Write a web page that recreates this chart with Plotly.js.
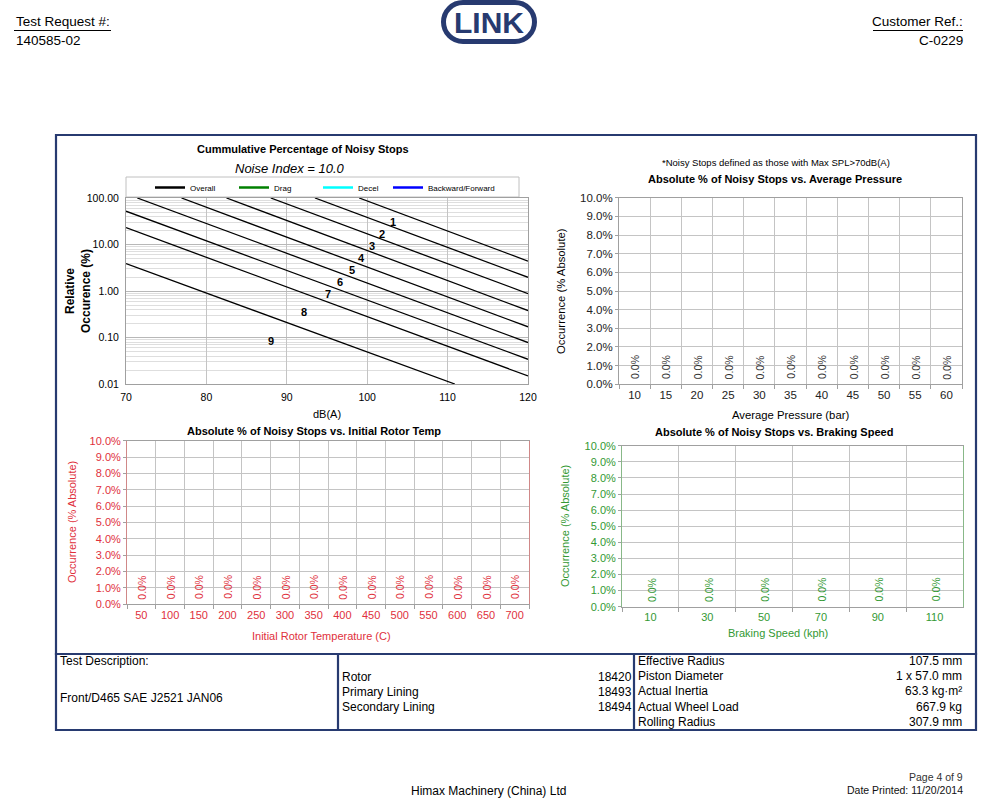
<!DOCTYPE html>
<html><head><meta charset="utf-8">
<script src="https://cdn.plot.ly/plotly-3.0.1.min.js"></script>
<style>html,body{margin:0;padding:0;background:#fff}#chart{width:1000px;height:801px}</style>
</head><body><div id="chart"></div>
<script>
// ---------- data ----------
const seriesNames = ['Overall', 'Drag', 'Decel', 'Backward/Forward'];
const seriesColors = ['#000000', '#008000', '#00ffff', '#0000ff'];
const seriesDb = [[null], [null], [null], [null]];
const seriesPct = [[null], [null], [null], [null]];

const noiseLineIds = ['1', '2', '3', '4', '5', '6', '7', '8', '9'];
const noiseLineDb = [[99.0, 120], [93.5, 120], [88.0, 120], [82.5, 120], [76.9, 120], [71.4, 120], [70, 120], [70, 120], [70, 110.9]];
const noiseLinePct = [[100, 4.4], [100, 1.97], [100, 0.88], [100, 0.38], [100, 0.17], [100, 0.078], [52, 0.034], [23, 0.0149], [3.87, 0.01]];
const noiseLabelDb = [103.2, 101.9, 100.6, 99.3, 98.1, 96.6, 95.1, 92.2, 88.0];
const noiseLabelPct = [31, 16.5, 9.3, 5.05, 2.78, 1.53, 0.85, 0.35, 0.084];

const pressureCats = ['10', '15', '20', '25', '30', '35', '40', '45', '50', '55', '60'];
const pressurePct = [0, 0, 0, 0, 0, 0, 0, 0, 0, 0, 0];
const tempCats = ['50', '100', '150', '200', '250', '300', '350', '400', '450', '500', '550', '600', '650', '700'];
const tempPct = [0, 0, 0, 0, 0, 0, 0, 0, 0, 0, 0, 0, 0, 0];
const speedCats = ['10', '30', '50', '70', '90', '110'];
const speedPct = [0, 0, 0, 0, 0, 0];

const headerLeft = ['Test Request #:', '140585-02'];
const headerRight = ['Customer Ref.:', 'C-0229'];
const testDescription = ['Test Description:', 'Front/D465 SAE J2521 JAN06'];
const partRows = [['Rotor', '18420'], ['Primary Lining', '18493'], ['Secondary Lining', '18494']];
const specRows = [['Effective Radius', '107.5 mm'], ['Piston Diameter', '1 x 57.0 mm'], ['Actual Inertia', '63.3 kg·m²'], ['Actual Wheel Load', '667.9 kg'], ['Rolling Radius', '307.9 mm']];
const footerCompany = 'Himax Machinery (China) Ltd';
const footerPage = 'Page 4 of 9';
const footerDate = 'Date Printed: 11/20/2014';

// ---------- helpers ----------
const FONT = 'Liberation Sans, Arial, Helvetica, sans-serif';
const NAVY = '#273a70';
const RED = '#e0303c';
const GREEN = '#339933';
const X = px => px / 1000;
const Y = py => 1 - py / 801;

const annotations = [];
function txt(text, x, y, o = {}) {
  annotations.push(Object.assign({
    xref: 'paper', yref: 'paper', x: X(x), y: Y(y), text: text, showarrow: false,
    xanchor: o.xa || 'center', yanchor: 'middle',
    font: { family: FONT, size: o.size || 12, color: o.color || '#000' },
    textangle: o.angle || 0
  }, o.extra || {}));
}
const shapes = [];
function line(x0, y0, x1, y1, color, w) {
  shapes.push({ type: 'line', xref: 'paper', yref: 'paper', x0: X(x0), y0: Y(y0), x1: X(x1), y1: Y(y1), line: { color: color, width: w } });
}
function rect(x0, y0, x1, y1, color, w, fill) {
  shapes.push({ type: 'rect', xref: 'paper', yref: 'paper', x0: X(x0), y0: Y(y0), x1: X(x1), y1: Y(y1), line: { color: color, width: w }, fillcolor: fill || 'rgba(0,0,0,0)', layer: 'below' });
}
function stadium(x0, y0, x1, y1) {
  const r = (y1 - y0) / 2, k = 0.5523 * r;
  const P = (a, b) => X(a) + ',' + Y(b);
  return 'M' + P(x0 + r, y0) + ' L' + P(x1 - r, y0) +
    ' C' + P(x1 - r + k, y0) + ' ' + P(x1, y0 + r - k) + ' ' + P(x1, y0 + r) +
    ' C' + P(x1, y0 + r + k) + ' ' + P(x1 - r + k, y1) + ' ' + P(x1 - r, y1) +
    ' L' + P(x0 + r, y1) +
    ' C' + P(x0 + r - k, y1) + ' ' + P(x0, y0 + r + k) + ' ' + P(x0, y0 + r) +
    ' C' + P(x0, y0 + r - k) + ' ' + P(x0 + r - k, y0) + ' ' + P(x0 + r, y0) + ' Z';
}

// ---------- traces ----------
const traces = [];
noiseLineIds.forEach((id, i) => {
  traces.push({ type: 'scatter', mode: 'lines', x: noiseLineDb[i], y: noiseLinePct[i], xaxis: 'x', yaxis: 'y',
    line: { color: '#000', width: 1.3 }, showlegend: false, hoverinfo: 'skip', name: 'NI ' + id });
  annotations.push({ xref: 'x', yref: 'y', x: noiseLabelDb[i], y: Math.log10(noiseLabelPct[i]), text: '<b>' + id + '</b>',
    showarrow: false, font: { family: FONT, size: 11, color: '#000' } });
});
seriesNames.forEach((n, i) => {
  traces.push({ type: 'scatter', mode: 'lines', x: seriesDb[i], y: seriesPct[i], xaxis: 'x', yaxis: 'y',
    name: n, line: { color: seriesColors[i], width: 2.5 }, legend: i < 3 ? 'legend' : 'legend2' });
});
function barSet(cats, vals, xa, ya, color) {
  traces.push({ type: 'bar', x: cats, y: vals, xaxis: xa, yaxis: ya, marker: { color: '#8080c0' }, showlegend: false, hoverinfo: 'skip' });
  cats.forEach((c, i) => {
    // category axes: annotation x is the category index
    annotations.push({ xref: xa, yref: ya, x: i, y: vals[i], text: vals[i].toFixed(1) + '%', textangle: -90,
      showarrow: false, yanchor: 'middle', yshift: 17, xshift: 1, font: { family: FONT, size: 10.5, color: color } });
  });
}
barSet(pressureCats, pressurePct, 'x2', 'y2', '#333');
barSet(tempCats, tempPct, 'x3', 'y3', RED);
barSet(speedCats, speedPct, 'x4', 'y4', GREEN);

// ---------- page decoration ----------
rect(56, 135, 976, 654, NAVY, 2.2);
rect(56, 654, 976, 730, NAVY, 2.2);
line(338, 654, 338, 730, NAVY, 2.2);
line(634, 654, 634, 730, NAVY, 2.2);
rect(126, 177, 519, 197, '#c0c0c0', 1, '#ffffff');
shapes.push({ type: 'path', xref: 'paper', yref: 'paper', path: stadium(443.5, 2.5, 534.5, 41.5), line: { color: NAVY, width: 5 }, fillcolor: '#fff' });
txt('<b>LINK</b>', 489, 23, { size: 30, color: NAVY });
txt(headerLeft[0], 14, 22, { xa: 'left', size: 13.5 });
txt(headerLeft[1], 14, 40, { xa: 'left', size: 13.5 });
txt(headerRight[0], 965, 22, { xa: 'right', size: 13.5 });
txt(headerRight[1], 965, 40, { xa: 'right', size: 13.5 });
line(14, 30.5, 111, 30.5, '#000', 1);
line(873, 30.5, 963, 30.5, '#000', 1);
txt(footerCompany, 488, 791, { size: 12 });
txt(footerPage, 965, 777, { xa: 'right', size: 10.5, color: '#333' });
txt(footerDate, 965, 790, { xa: 'right', size: 10.5, color: '#111' });
txt(testDescription[0], 58, 661, { xa: 'left', size: 12 });
txt(testDescription[1], 58, 698, { xa: 'left', size: 12 });
partRows.forEach((r, i) => {
  txt(r[0], 340, 677 + i * 15, { xa: 'left', size: 12 });
  txt(r[1], 634, 677 + i * 15, { xa: 'right', size: 12 });
});
specRows.forEach((r, i) => {
  txt(r[0], 636, 661 + i * 15.2, { xa: 'left', size: 12 });
  txt(r[1], 964, 661 + i * 15.2, { xa: 'right', size: 12 });
});

txt('<b>Cummulative Percentage of Noisy Stops</b>', 303, 149, { size: 11 });
txt('<i>Noise Index = 10.0</i>', 290, 168, { size: 13 });
txt('<b>Relative</b><br><b>Occurence (%)</b>', 78, 291, { size: 12, angle: -90 });
txt('dB(A)', 327, 414, { size: 11 });

txt('*Noisy Stops defined as those with Max SPL>70dB(A)', 776, 162, { size: 9.5 });
txt('<b>Absolute % of Noisy Stops vs. Average Pressure</b>', 775, 179, { size: 11 });
txt('Occurrence (% Absolute)', 561, 291, { size: 11.3, angle: -90 });
txt('Average Pressure (bar)', 790, 415, { size: 11.3 });

txt('<b>Absolute % of Noisy Stops vs. Initial Rotor Temp</b>', 314, 431, { size: 11 });
txt('Occurrence (% Absolute)', 72, 522, { size: 11, angle: -90, color: RED });
txt('Initial Rotor Temperature (C)', 321, 636, { size: 11, color: RED });

txt('<b>Absolute % of Noisy Stops vs. Braking Speed</b>', 774, 432, { size: 11 });
txt('Occurrence (% Absolute)', 565, 526, { size: 11, angle: -90, color: GREEN });
txt('Braking Speed (kph)', 778, 633, { size: 11, color: GREEN });

// ---------- axes ----------
const GRID = '#c4c4c4', BORDER = '#a0a0a0';
function catX(domain, anchor, n, color, size) {
  return { type: 'category', domain: domain, anchor: anchor, range: [-0.5, n - 0.5], tickson: 'boundaries',
    showgrid: true, gridcolor: GRID, showline: true, mirror: true, linecolor: BORDER, linewidth: 1,
    ticks: 'outside', ticklen: 4, tickcolor: BORDER, tickfont: { family: FONT, size: size, color: color }, zeroline: false, fixedrange: true };
}
function pctY(domain, anchor, color, size, lc) {
  return { domain: domain, anchor: anchor, range: [0, 10], dtick: 1, tickformat: '.1f', ticksuffix: '%',
    showgrid: true, gridcolor: GRID, showline: true, mirror: true, linecolor: lc || BORDER, linewidth: 1,
    ticks: 'outside', ticklen: 3, tickcolor: BORDER, tickfont: { family: FONT, size: size, color: color }, zeroline: false, fixedrange: true };
}
const legendBase = { orientation: 'h', xanchor: 'left', yanchor: 'middle', y: Y(187.5),
  font: { family: FONT, size: 8, color: '#000' }, bgcolor: 'rgba(0,0,0,0)', borderwidth: 0, itemwidth: 30, traceorder: 'normal' };

const layout = {
  width: 1000, height: 801, margin: { l: 0, r: 0, t: 0, b: 0 },
  paper_bgcolor: '#fff', plot_bgcolor: '#fff',
  font: { family: FONT, size: 11, color: '#000' },
  showlegend: true,
  legend: Object.assign({}, legendBase, { x: X(150), entrywidth: 39, entrywidthmode: 'pixels' }),
  legend2: Object.assign({}, legendBase, { x: X(388) }),
  xaxis: { domain: [X(126), X(528)], anchor: 'y', range: [70, 120], dtick: 10, showgrid: true, gridcolor: GRID,
    showline: true, mirror: true, linecolor: BORDER, linewidth: 1, ticks: 'outside', ticklen: 3, tickcolor: 'rgba(0,0,0,0)',
    tickfont: { family: FONT, size: 10.5 }, zeroline: false, fixedrange: true },
  yaxis: { type: 'log', domain: [Y(384), Y(198)], anchor: 'x', range: [-2, 2], dtick: 1, tickformat: '.2f',
    showgrid: true, gridcolor: '#b8b8b8', showline: true, mirror: true, linecolor: BORDER, linewidth: 1,
    ticks: 'outside', ticklen: 4, tickcolor: 'rgba(0,0,0,0)', tickfont: { family: FONT, size: 10.5 },
    minor: { dtick: 'D1', showgrid: true, gridcolor: '#dedede', ticks: '' }, zeroline: false, fixedrange: true },
  xaxis2: catX([X(619), X(962)], 'y2', pressureCats.length, '#222', 11.5),
  yaxis2: pctY([Y(384.3), Y(197.7)], 'x2', '#222', 11.5),
  xaxis3: catX([X(127), X(529)], 'y3', tempCats.length, RED, 11),
  yaxis3: pctY([Y(604.3), Y(440.7)], 'x3', RED, 11, '#d08888'),
  xaxis4: catX([X(622), X(963)], 'y4', speedCats.length, GREEN, 11),
  yaxis4: pctY([Y(606.7), Y(445.7)], 'x4', GREEN, 11, '#88b888'),
  bargap: 0.5,
  annotations: annotations,
  shapes: shapes
};

Plotly.newPlot('chart', traces, layout, { staticPlot: true, displayModeBar: false });
</script></body></html>
